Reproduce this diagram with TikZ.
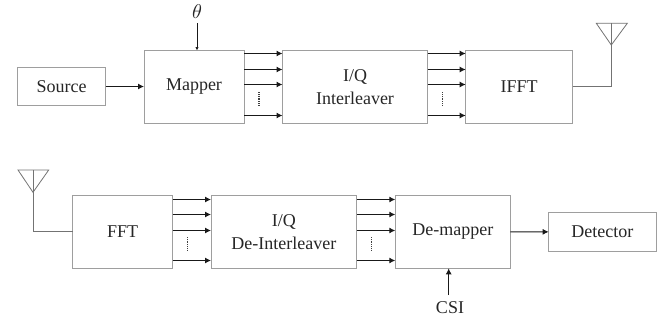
\documentclass[tikz,border=0pt]{standalone}
\usepackage{fontspec}
\usepackage{unicode-math}
\setmainfont{Liberation Serif}
\setmathfont{Latin Modern Math}
\usetikzlibrary{arrows.meta}
\definecolor{boxgray}{gray}{0.62}
\definecolor{wiregray}{gray}{0.45}
\definecolor{arrowgray}{gray}{0.1}
\tikzset{
  x=1pt,y=-1pt,
  blockbox/.style={draw=boxgray,line width=0.9pt,fill=white,inner sep=0pt,outer sep=0pt,font=\fontsize{18}{23}\selectfont,align=center,text=black!85},
  lbl/.style={inner sep=0pt,outer sep=0pt,font=\fontsize{18}{23}\selectfont,text=black!85},
  sig/.style={draw=arrowgray,line width=1.05pt,-{Latex[length=6pt,width=6pt]}},
  thinsig/.style={draw=arrowgray,line width=0.7pt,-{Latex[length=3.5pt,width=3.5pt]}},
  wire/.style={draw=wiregray,line width=0.9pt},
  vdots/.style={draw=black!75,line width=1.2pt,dash pattern=on 0.9pt off 0.9pt},
  ant/.style={draw=wiregray,line width=0.8pt,line join=miter},
}
\newcommand{\bus}[4]{%
  \foreach \dy in {#3}{\draw[sig] ([yshift=\dy pt]#1.east) -- ([yshift=\dy pt]#2.west);}
  \draw[vdots] ([yshift=#4 pt,xshift=15pt]#1.east) -- ([yshift=#4 pt-14pt,xshift=15pt]#1.east);
}
\begin{document}
\begin{tikzpicture}
\useasboundingbox (0,0) rectangle (664,322);
% top row
\node[blockbox,minimum width=88pt,minimum height=38pt] (src) at (61.5,86.5) {Source};
\node[blockbox,minimum width=100pt,minimum height=72.5pt] (map) at (194,86.75) {Mapper};
\node[blockbox,minimum width=145pt,minimum height=72.5pt] (il) at (355,86.75) {\raisebox{-1pt}{I/Q}\\\raisebox{-1pt}{Interleaver}};
\node[blockbox,minimum width=107pt,minimum height=72.5pt] (ifft) at (519.2,86.75) {IFFT};
\node[lbl,font=\fontsize{20}{23}\selectfont] (theta) at (197,12) {$\theta$};
\draw[thinsig] (theta.south |- 0,23) -- (theta.south |- map.north);
\draw[sig] (src.east) -- (map.west |- src.east);
\bus{map}{il}{33.25,17.25,2.25,-28.75}{-5.5}
\bus{il}{ifft}{33.25,17.25,2.25,-28.75}{-5.5}
\coordinate (txa) at (611.3,45);
\draw[wire] (ifft.east) -- (txa |- ifft.east) -- (txa);
\coordinate (txl) at (596.3,23.3);
\coordinate (txr) at (627.3,23.3);
\draw[ant] (txa) -- (txl) -- (txr) -- cycle;
\draw[ant] (txa) -- (txa |- txl);
% bottom row
\node[blockbox,minimum width=100pt,minimum height=73pt] (fft) at (122.7,231.8) {FFT};
\node[blockbox,minimum width=145.7pt,minimum height=73pt] (dil) at (283.85,231.8) {\raisebox{-1pt}{I/Q}\\\raisebox{-1pt}{De-Interleaver}};
\node[blockbox,minimum width=115pt,minimum height=73pt] (dem) at (452.8,231.8) {De-mapper};
\node[blockbox,minimum width=107.3pt,minimum height=38.3pt] (det) at (602.35,231.85) {Detector};
\node[lbl] (csi) at (450,308) {CSI};
\coordinate (csib) at (448.7,295);
\draw[sig] (csib) -- (csib |- dem.south);
\draw[sig] (dem.east) -- (det.west);
\bus{fft}{dil}{32.3,17.3,1.3,-28.7}{-5.2}
\bus{dil}{dem}{32.3,17.3,1.3,-28.7}{-5.2}
\coordinate (rxa) at (33,192.3);
\draw[wire] (fft.west) -- (rxa |- fft.west) -- (rxa);
\coordinate (rxl) at (18,170);
\coordinate (rxr) at (48.7,170);
\draw[ant] (rxa) -- (rxl) -- (rxr) -- cycle;
\draw[ant] (rxa) -- (rxa |- rxl);
\end{tikzpicture}
\end{document}
